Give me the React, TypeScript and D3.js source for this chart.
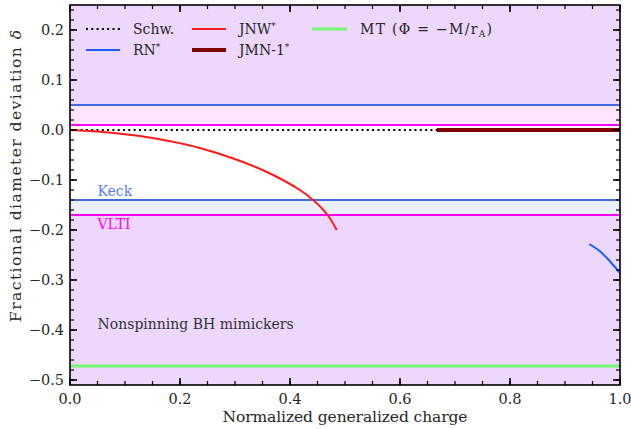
import React from "react";
import * as d3 from "d3";

const xTicks = [0, 0.2, 0.4, 0.6, 0.8, 1.0];
const yTicks = [0.2, 0.1, 0.0, -0.1, -0.2, -0.3, -0.4, -0.5];

const schwX = [0, 1];
const schwY = [0, 0];
const jnwX = [0, 0.06, 0.127, 0.185, 0.236, 0.297, 0.358, 0.418, 0.442, 0.467, 0.485];
const jnwY = [0, -0.004, -0.012, -0.023, -0.036, -0.057, -0.084, -0.12, -0.14, -0.168, -0.2];
const rnX = [0.944, 0.962, 0.976, 0.99, 1.0];
const rnY = [-0.228, -0.241, -0.256, -0.273, -0.286];
const jmnX = [0.667, 1.0];
const jmnY = [0, 0];
const mtX = [0, 1];
const mtY = [-0.472, -0.472];
const keckBounds = [-0.14, 0.05];
const vltiBounds = [-0.17, 0.01];

const TS: React.CSSProperties = { fontFamily: '"DejaVu Serif", "Liberation Serif", serif' };

export default function App() {
  const W = 631, H = 429;
  const L = 70, R = 620, T = 5, B = 385;
  const x = d3.scaleLinear().domain([0, 1]).range([L, R]);
  const y = d3.scaleLinear().domain([-0.51, 0.25]).range([B, T]);
  const mk = (xs: number[], ys: number[], curve: any = d3.curveLinear) =>
    d3.line<number>().x((_, i) => x(xs[i])).y((_, i) => y(ys[i])).curve(curve)(xs.map((_, i) => i)) || "";

  const xMinor = d3.range(0, 1.0001, 0.05);
  const yMinor = d3.range(-0.5, 0.2401, 0.02);
  const fmt = (v: number) => (v < 0 ? "\u2212" : "") + Math.abs(v).toFixed(1);

  const keckColor = "#4169e1";
  const vltiColor = "#ff00ff";
  const txt = "#262626";

  const legend = [
    { x0: 86, yy: 29, label: "Schw.", sup: false, color: "#000", w: 2, dash: "2,3.3" },
    { x0: 86, yy: 50, label: "RN", sup: true, color: "#1a5cff", w: 2, dash: undefined },
    { x0: 192, yy: 29, label: "JNW", sup: true, color: "#ff1a1a", w: 2, dash: undefined },
    { x0: 192, yy: 50, label: "JMN-1", sup: true, color: "#800000", w: 4, dash: undefined },
  ];

  return (
    <div style={{ position: "absolute", left: 0, top: 0 }}>
      <svg width={W} height={H} style={{ display: "block" }}>
        <rect x={0} y={0} width={W} height={H} fill="#fff" />
        <defs>
          <clipPath id="clip">
            <rect x={L} y={T} width={R - L} height={B - T} />
          </clipPath>
        </defs>
        <g clipPath="url(#clip)">
          <rect x={L} y={T} width={R - L} height={y(keckBounds[1]) - T} fill={keckColor} fillOpacity={0.1} />
          <rect x={L} y={y(keckBounds[0])} width={R - L} height={B - y(keckBounds[0])} fill={keckColor} fillOpacity={0.1} />
          <rect x={L} y={T} width={R - L} height={y(vltiBounds[1]) - T} fill={vltiColor} fillOpacity={0.1} />
          <rect x={L} y={y(vltiBounds[0])} width={R - L} height={B - y(vltiBounds[0])} fill={vltiColor} fillOpacity={0.1} />
          {keckBounds.map((b) => (
            <line key={"k" + b} x1={L} x2={R} y1={y(b)} y2={y(b)} stroke={keckColor} strokeWidth={2} />
          ))}
          {vltiBounds.map((b) => (
            <line key={"v" + b} x1={L} x2={R} y1={y(b)} y2={y(b)} stroke={vltiColor} strokeWidth={2} />
          ))}
          <path d={mk(schwX, schwY)} fill="none" stroke="#000" strokeWidth={2} strokeDasharray="2,3.3" />
          <path d={mk(jnwX, jnwY, d3.curveCatmullRom.alpha(0.5))} fill="none" stroke="#ff1a1a" strokeWidth={2} />
          <path d={mk(rnX, rnY, d3.curveCatmullRom.alpha(0.5))} fill="none" stroke="#1a5cff" strokeWidth={2} />
          <path d={mk(jmnX, jmnY)} fill="none" stroke="#800000" strokeWidth={4} />
          <path d={mk(mtX, mtY)} fill="none" stroke="#77f777" strokeWidth={3} />
        </g>

        <text style={TS} x={x(0.05)} y={y(-0.14) - 4} fontSize={14} fill="#5a7de6">Keck</text>
        <text style={TS} x={x(0.05)} y={y(-0.17) + 14} fontSize={14} fill={vltiColor}>VLTI</text>
        <text style={TS} x={x(0.05)} y={y(-0.398)} fontSize={14} fill="#333">Nonspinning BH mimickers</text>

        {legend.map((l) => (
          <g key={l.label}>
            <line x1={l.x0} x2={l.x0 + 34} y1={l.yy} y2={l.yy} stroke={l.color} strokeWidth={l.w} strokeDasharray={l.dash} />
            <text style={TS} x={l.x0 + 47} y={l.yy + 5} fontSize={14} fill={txt}>
              {l.label}
              {l.sup && <tspan dy={-5} fontSize={9}>*</tspan>}
            </text>
          </g>
        ))}
        <line x1={312} x2={347} y1={29} y2={29} stroke="#77f777" strokeWidth={3} />
        <text style={TS} x={360} y={34} fontSize={14} fill={txt} textLength={132} lengthAdjust="spacing">
          MT (Φ = −M/r<tspan dy={3} fontSize={9}>A</tspan><tspan dy={-3}>)</tspan>
        </text>

        <rect x={L} y={T} width={R - L} height={B - T} fill="none" stroke="#000" strokeWidth={1.6} />
        {xMinor.map((v) => (
          <g key={"xm" + v}>
            <line x1={x(v)} x2={x(v)} y1={B} y2={B - 4} stroke="#000" strokeWidth={1.2} />
            <line x1={x(v)} x2={x(v)} y1={T} y2={T + 4} stroke="#000" strokeWidth={1.2} />
          </g>
        ))}
        {xTicks.map((v) => (
          <g key={"xt" + v}>
            <line x1={x(v)} x2={x(v)} y1={B} y2={B - 7} stroke="#000" strokeWidth={1.6} />
            <line x1={x(v)} x2={x(v)} y1={T} y2={T + 7} stroke="#000" strokeWidth={1.6} />
            <text style={TS} x={x(v)} y={B + 19} fontSize={14.5} textAnchor="middle" fill={txt}>{v.toFixed(1)}</text>
          </g>
        ))}
        {yMinor.map((v) => (
          <g key={"ym" + v.toFixed(2)}>
            <line x1={L} x2={L + 4} y1={y(v)} y2={y(v)} stroke="#000" strokeWidth={1.2} />
            <line x1={R} x2={R - 4} y1={y(v)} y2={y(v)} stroke="#000" strokeWidth={1.2} />
          </g>
        ))}
        {yTicks.map((v) => (
          <g key={"yt" + v}>
            <line x1={L} x2={L + 7} y1={y(v)} y2={y(v)} stroke="#000" strokeWidth={1.6} />
            <line x1={R} x2={R - 7} y1={y(v)} y2={y(v)} stroke="#000" strokeWidth={1.6} />
            <text style={TS} x={L - 6} y={y(v) + 5} fontSize={14.5} textAnchor="end" fill={txt}>{fmt(v)}</text>
          </g>
        ))}

        <text style={TS} x={345} y={422} fontSize={15.5} textAnchor="middle" fill={txt} textLength={245} lengthAdjust="spacing">
          Normalized generalized charge
        </text>
        <text style={TS} transform={`translate(21,176) rotate(-90)`} fontSize={15.5} textAnchor="middle" fill={txt} textLength={292} lengthAdjust="spacing">
          Fractional diameter deviation <tspan fontStyle="italic">δ</tspan>
        </text>
      </svg>
    </div>
  );
}
